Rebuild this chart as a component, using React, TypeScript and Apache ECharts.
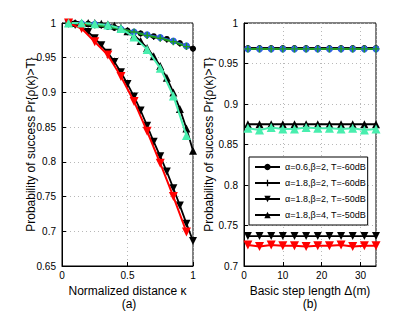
import React, { useEffect, useRef } from "react";
import * as echarts from "echarts";

// ---- data ----
const kappaAnalytic = [0.05, 0.1, 0.15, 0.2, 0.25, 0.3, 0.35, 0.4, 0.45, 0.5, 0.55, 0.6, 0.65, 0.7, 0.75, 0.8, 0.85, 0.9, 0.95, 1.0];
const kappaSim = [0.05, 0.15, 0.25, 0.35, 0.45, 0.55, 0.65, 0.75, 0.85, 0.95];
const stepLen = [1, 4, 7, 10, 13, 16, 19, 22, 25, 28, 31, 34];

const legendNames = [
  "α=0.6,β=2, T=-60dB",
  "α=1.8,β=2, T=-60dB",
  "α=1.8,β=2, T=-50dB",
  "α=1.8,β=4, T=-50dB",
];

// (a) analytic curves (black)
const aCircle = [1.0, 1.0, 0.999, 0.999, 0.998, 0.997, 0.995, 0.993, 0.991, 0.989, 0.987, 0.985, 0.983, 0.981, 0.979, 0.977, 0.974, 0.971, 0.967, 0.963];
const aPlus = [1.0, 1.0, 0.999, 0.998, 0.997, 0.996, 0.995, 0.993, 0.991, 0.989, 0.987, 0.985, 0.982, 0.980, 0.978, 0.976, 0.973, 0.970, 0.967, 0.963];
const aDown = [0.999, 0.997, 0.993, 0.987, 0.978, 0.968, 0.957, 0.944, 0.929, 0.912, 0.894, 0.874, 0.852, 0.829, 0.808, 0.786, 0.762, 0.737, 0.711, 0.686];
const aUp = [1.0, 1.0, 1.0, 1.0, 1.0, 0.999, 0.998, 0.996, 0.993, 0.988, 0.982, 0.974, 0.964, 0.952, 0.938, 0.921, 0.9, 0.876, 0.848, 0.816];

// (a) simulation (coloured)
const sBlue = [1.0, 0.999, 0.998, 0.995, 0.991, 0.987, 0.983, 0.979, 0.974, 0.967];
const sGreen = [1.0, 0.999, 0.997, 0.995, 0.991, 0.987, 0.982, 0.978, 0.973, 0.966];
const sRed = [1.0, 0.992, 0.973, 0.954, 0.923, 0.887, 0.844, 0.798, 0.75, 0.699];
const sCyan = [1.0, 1.0, 0.999, 0.997, 0.992, 0.98, 0.962, 0.935, 0.895, 0.838];

// (b) analytic (black)
const bCircle = [0.969, 0.969, 0.969, 0.969, 0.969, 0.969, 0.969, 0.969, 0.969, 0.969, 0.969, 0.969];
const bPlus = [0.969, 0.969, 0.969, 0.969, 0.969, 0.969, 0.969, 0.969, 0.969, 0.969, 0.969, 0.969];
const bDown = [0.737, 0.737, 0.737, 0.737, 0.737, 0.737, 0.737, 0.737, 0.737, 0.737, 0.737, 0.737];
const bUp = [0.875, 0.875, 0.875, 0.875, 0.875, 0.875, 0.875, 0.875, 0.875, 0.875, 0.875, 0.875];

// (b) simulation (coloured)
const tBlue = [0.968, 0.968, 0.968, 0.968, 0.968, 0.968, 0.968, 0.968, 0.968, 0.968, 0.968, 0.968];
const tGreen = [0.968, 0.968, 0.968, 0.968, 0.968, 0.968, 0.968, 0.968, 0.968, 0.968, 0.968, 0.968];
const tRed = [0.726, 0.724, 0.726, 0.725, 0.725, 0.724, 0.725, 0.725, 0.726, 0.724, 0.725, 0.725];
const tCyan = [0.87, 0.868, 0.871, 0.869, 0.869, 0.871, 0.87, 0.87, 0.869, 0.87, 0.868, 0.869];

const PLUS = "path://M4,0H6V4H10V6H6V10H4V6H0V4H4Z";
const FONT = "'Liberation Sans', Arial, Helvetica, sans-serif";

const pairs = (xs: number[], ys: number[]) => xs.map((x, i) => [x, ys[i]]);

type Mk = { symbol: string; rotate?: number; size: number };
const MK: Mk[] = [
  { symbol: "circle", size: 6 },
  { symbol: PLUS, size: 6 },
  { symbol: "triangle", rotate: 180, size: 8 },
  { symbol: "triangle", size: 8 },
];

function blackSeries(idx: number, xs: number[], ys: number[], name: string, k: number) {
  return {
    type: "line",
    name,
    xAxisIndex: idx,
    yAxisIndex: idx,
    data: pairs(xs, ys),
    symbol: MK[k].symbol,
    symbolRotate: MK[k].rotate || 0,
    symbolSize: MK[k].size,
    showAllSymbol: true,
    lineStyle: { color: "#000", width: 1.8 },
    itemStyle: { color: "#000", borderColor: "#000", borderWidth: 0 },
    z: 2,
  };
}

function simSeries(idx: number, xs: number[], ys: number[], name: string, k: number, color: string, lineColor: string, size: number) {
  return {
    type: "line",
    name,
    xAxisIndex: idx,
    yAxisIndex: idx,
    data: pairs(xs, ys),
    symbol: MK[k].symbol,
    symbolRotate: MK[k].rotate || 0,
    symbolSize: size,
    showAllSymbol: true,
    lineStyle: { color: lineColor, width: 2 },
    itemStyle: { color, borderColor: color, borderWidth: 0 },
    z: 3,
  };
}

const BLUE = "#2f5fe8";
const GREEN = "#1e9e1e";
const RED = "#ff0000";
const CYAN = "#48eeae";

export default function App() {
  const ref = useRef<HTMLDivElement>(null);
  useEffect(() => {
    const chart = echarts.init(ref.current!, null, { renderer: "svg" });
    const axisLine = { show: true, lineStyle: { color: "#000", width: 1 } };
    const splitLine = { show: true, lineStyle: { color: "#b8b8b8", type: [1, 3], width: 1 } };
    const axisLabel = { color: "#000", fontSize: 10, fontFamily: FONT };
    const nameStyle = { color: "#000", fontSize: 12, fontFamily: FONT };
    const option: any = {
      animation: false,
      backgroundColor: "#fff",
      grid: [
        { left: 62, top: 23, width: 131, height: 243, show: true, borderColor: "#000", borderWidth: 1, backgroundColor: "transparent" },
        { left: 244, top: 23, width: 132, height: 243, show: true, borderColor: "#000", borderWidth: 1, backgroundColor: "transparent" },
      ],
      xAxis: [
        {
          type: "value", gridIndex: 0, min: 0, max: 1, interval: 0.5,
          name: "Normalized distance κ", nameLocation: "middle", nameGap: 9, nameTextStyle: nameStyle,
          axisLine, splitLine, axisTick: { show: true, inside: true, length: 4, lineStyle: { color: "#000" } },
          axisLabel: { ...axisLabel, margin: 4 },
        },
        {
          type: "value", gridIndex: 1, min: 0, max: 34, interval: 10,
          name: "Basic step length Δ(m)", nameLocation: "middle", nameGap: 9, nameTextStyle: nameStyle,
          axisLine, splitLine, axisTick: { show: true, inside: true, length: 4, lineStyle: { color: "#000" } },
          axisLabel: { ...axisLabel, margin: 4, showMaxLabel: false },
        },
      ],
      yAxis: [
        {
          type: "value", gridIndex: 0, min: 0.65, max: 1, interval: 0.05,
          name: "Probability of success Pr{ρ(κ)>T}", nameLocation: "middle", nameGap: 25, nameMoveOverlap: false, nameTextStyle: nameStyle,
          axisLine, splitLine, axisTick: { show: true, inside: true, length: 4, lineStyle: { color: "#000" } },
          axisLabel: { ...axisLabel, margin: 6 },
        },
        {
          type: "value", gridIndex: 1, min: 0.7, max: 1, interval: 0.05,
          name: "Probability of success Pr{ρ(κ)>T}", nameLocation: "middle", nameGap: 27, nameTextStyle: nameStyle,
          axisLine, splitLine, axisTick: { show: true, inside: true, length: 4, lineStyle: { color: "#000" } },
          axisLabel: { ...axisLabel, margin: 6 },
        },
      ],
      legend: {
        data: legendNames,
        orient: "vertical",
        left: 249,
        top: 157,
        padding: [4, 2, 4, 5],
        itemWidth: 25,
        itemHeight: 8,
        itemGap: 4,
        backgroundColor: "#fff",
        borderColor: "#000",
        borderWidth: 1,
        borderRadius: 0,
        selectedMode: false,
        textStyle: { color: "#000", fontSize: 9, fontFamily: FONT, lineHeight: 12 },
      },
      graphic: [
        { type: "text", x: 129, y: 304, style: { text: "(a)", font: `12px ${FONT}`, fill: "#000", textAlign: "center", textVerticalAlign: "middle" } },
        { type: "text", x: 310, y: 304, style: { text: "(b)", font: `12px ${FONT}`, fill: "#000", textAlign: "center", textVerticalAlign: "middle" } },
      ],
      series: [
        blackSeries(0, kappaAnalytic, aCircle, legendNames[0], 0),
        blackSeries(0, kappaAnalytic, aPlus, legendNames[1], 1),
        blackSeries(0, kappaAnalytic, aDown, legendNames[2], 2),
        blackSeries(0, kappaAnalytic, aUp, legendNames[3], 3),
        simSeries(0, kappaSim, sBlue, "sim1a", 0, BLUE, BLUE, 7),
        simSeries(0, kappaSim, sGreen, "sim2a", 1, GREEN, GREEN, 7),
        simSeries(0, kappaSim, sRed, "sim3a", 2, RED, RED, 9),
        simSeries(0, kappaSim, sCyan, "sim4a", 3, CYAN, CYAN, 9),
        blackSeries(1, stepLen, bCircle, legendNames[0], 0),
        blackSeries(1, stepLen, bPlus, legendNames[1], 1),
        blackSeries(1, stepLen, bDown, legendNames[2], 2),
        blackSeries(1, stepLen, bUp, legendNames[3], 3),
        simSeries(1, stepLen, tBlue, "sim1b", 0, BLUE, BLUE, 7),
        simSeries(1, stepLen, tGreen, "sim2b", 1, GREEN, GREEN, 7),
        simSeries(1, stepLen, tRed, "sim3b", 2, RED, RED, 9),
        simSeries(1, stepLen, tCyan, "sim4b", 3, CYAN, CYAN, 9),
      ],
    };
    chart.setOption(option);
    return () => chart.dispose();
  }, []);
  return <div ref={ref} style={{ position: "absolute", left: 0, top: 0, width: 415, height: 313 }} />;
}
